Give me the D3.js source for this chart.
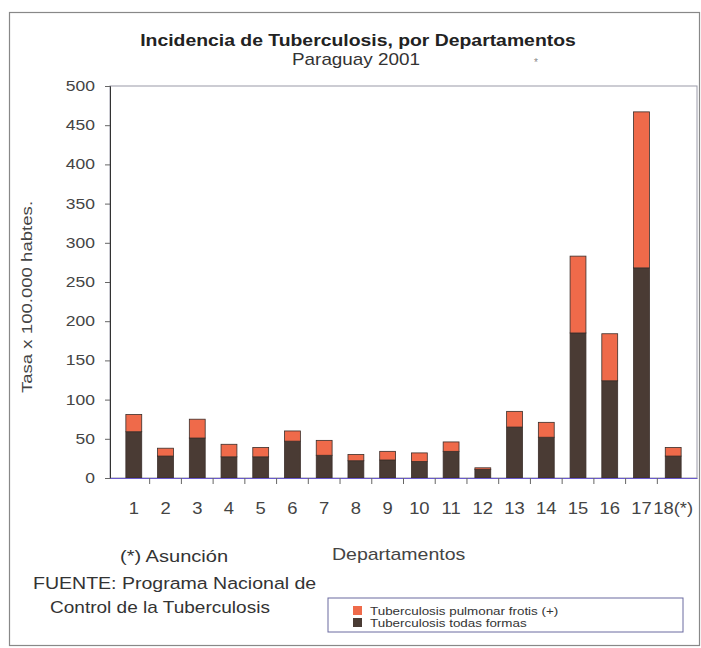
<!DOCTYPE html>
<html>
<head>
<meta charset="utf-8">
<script src="https://cdn.jsdelivr.net/npm/d3@7"></script>
<style>
  body { margin: 0; background: #fff; }
  text { font-family: "Liberation Sans", Arial, sans-serif; }
</style>
</head>
<body>
<svg id="mainsvg" width="701" height="648"></svg>
<script>
const departamentos = ['1','2','3','4','5','6','7','8','9','10','11','12','13','14','15','16','17','18(*)'];
// tuberculosis todas formas (dark, bottom)
const todasFormas = [59, 28, 51, 27, 27, 47, 29, 22, 23, 21, 34, 11, 65, 52, 185, 124, 268, 28];
// tuberculosis pulmonar frotis (+) (orange, stacked on top)
const pulmonar = [22, 10, 24, 16, 12, 13, 19, 8, 11, 11, 12, 2, 20, 19, 98, 60, 199, 11];
const yTicks = [0, 50, 100, 150, 200, 250, 300, 350, 400, 450, 500];
const seriesNames = ['Tuberculosis pulmonar frotis (+)', 'Tuberculosis todas formas'];
const colors = { pulmonar: '#ef6a4a', todas: '#4a3b34' };

const svg = d3.select('#mainsvg');
const margin = { top: 86, right: 4, bottom: 170, left: 110 };
const width = +svg.attr('width');
const height = +svg.attr('height');
const innerWidth = width - margin.left - margin.right;
const innerHeight = height - margin.top - margin.bottom;

// the scanned original is a bit stretched sideways, so texts get a small x-scale
const label = (txt, x, y, size, sx, opts = {}) => {
  const t = svg.append('g')
    .attr('transform', `translate(${x}, ${y}) ${opts.rotate ? 'rotate(-90)' : ''} scale(${sx}, 1)`)
    .append('text').text(txt)
    .attr('font-size', size + 'px')
    .attr('fill', opts.fill || '#333')
    .attr('text-anchor', opts.anchor || 'start');
  if (opts.bold) t.attr('font-weight', 'bold');
  return t;
};

// outer frame
svg.append('rect')
  .attr('x', 9.5).attr('y', 12.5)
  .attr('width', 690).attr('height', 633)
  .attr('fill', 'none').attr('stroke', '#888').attr('stroke-width', 1.2);

const xScale = d3.scaleBand()
  .domain(departamentos)
  .range([0, innerWidth])
  .padding(0.5);

const yScale = d3.scaleLinear()
  .domain([0, 500])
  .range([innerHeight, 0]);

const g = svg.append('g')
  .attr('transform', `translate(${margin.left}, ${margin.top})`);

// plot frame
g.append('rect')
  .attr('width', innerWidth).attr('height', innerHeight)
  .attr('fill', 'none').attr('stroke', '#9a9aa8').attr('stroke-width', 1);

// bars
const data = departamentos.map((d, i) => ({ name: d, todas: todasFormas[i], pulmonar: pulmonar[i] }));
const stack = d3.stack().keys(['todas', 'pulmonar'])(data);

g.selectAll('g.layer')
  .data(stack)
  .join('g')
  .attr('class', 'layer')
  .attr('fill', d => colors[d.key])
  .selectAll('rect')
  .data(d => d)
  .join('rect')
  .attr('x', d => xScale(d.data.name))
  .attr('y', d => yScale(d[1]))
  .attr('width', xScale.bandwidth())
  .attr('height', d => yScale(d[0]) - yScale(d[1]))
  .attr('stroke', '#3a2e2a')
  .attr('stroke-width', 0.8);

// y axis
const yAxis = d3.axisLeft(yScale).tickValues(yTicks).tickSize(5).tickPadding(7);
const yG = g.append('g').call(yAxis);
yG.select('.domain').attr('stroke', '#333');
yG.selectAll('.tick line').attr('stroke', '#666');
yG.selectAll('.tick text')
  .attr('font-size', '14px').attr('fill', '#444')
  .attr('font-family', '"Liberation Sans", Arial, sans-serif')
  .attr('transform', 'scale(1.25, 1)');

// x axis
const xAxis = d3.axisBottom(xScale).tickSize(0).tickPadding(25);
const xG = g.append('g').attr('transform', `translate(0, ${innerHeight})`).call(xAxis);
xG.select('.domain').attr('stroke', '#6a5acd').attr('stroke-width', 1.2);
xG.selectAll('.tick text')
  .attr('font-size', '16px').attr('fill', '#444')
  .attr('font-family', '"Liberation Sans", Arial, sans-serif')
  .attr('transform', 'scale(1.15, 1)');
// small ticks between the bars
xG.selectAll('line.sep')
  .data(departamentos.slice(1))
  .join('line')
  .attr('class', 'sep')
  .attr('x1', d => xScale(d) - xScale.bandwidth() / 2)
  .attr('x2', d => xScale(d) - xScale.bandwidth() / 2)
  .attr('y1', 0).attr('y2', 6)
  .attr('stroke', '#666');

// titles
label('Incidencia de Tuberculosis, por Departamentos', 358, 46, 17, 1.14, { anchor: 'middle', bold: true, fill: '#222' });
label('Paraguay 2001', 356, 65, 16, 1.18, { anchor: 'middle' });
label('*', 536, 66, 10, 1, { anchor: 'middle', fill: '#888' });

// y title
label('Tasa x 100.000 habtes.', 32, 297, 15, 1.24, { anchor: 'middle', rotate: true, fill: '#444' });

// bottom notes
label('(*) Asunción', 120, 562, 17, 1.18);
label('Departamentos', 332, 560, 16, 1.22, { fill: '#444' });
label('FUENTE: Programa Nacional de', 33, 589, 17, 1.15);
label('Control de la Tuberculosis', 50, 613, 17, 1.12);

// legend
const legend = svg.append('g').attr('transform', 'translate(328, 598)');
legend.append('rect')
  .attr('width', 355).attr('height', 34)
  .attr('fill', '#fff').attr('stroke', '#6a6aa0').attr('stroke-width', 1);
const legendColors = [colors.pulmonar, colors.todas];
seriesNames.forEach((name, i) => {
  legend.append('rect')
    .attr('x', 25).attr('y', 8 + i * 12)
    .attr('width', 9).attr('height', 9)
    .attr('fill', legendColors[i]);
  legend.append('g')
    .attr('transform', `translate(42, ${17 + i * 12}) scale(1.22, 1)`)
    .append('text').text(name)
    .attr('font-size', '11px').attr('fill', '#333');
});
</script>
</body>
</html>
